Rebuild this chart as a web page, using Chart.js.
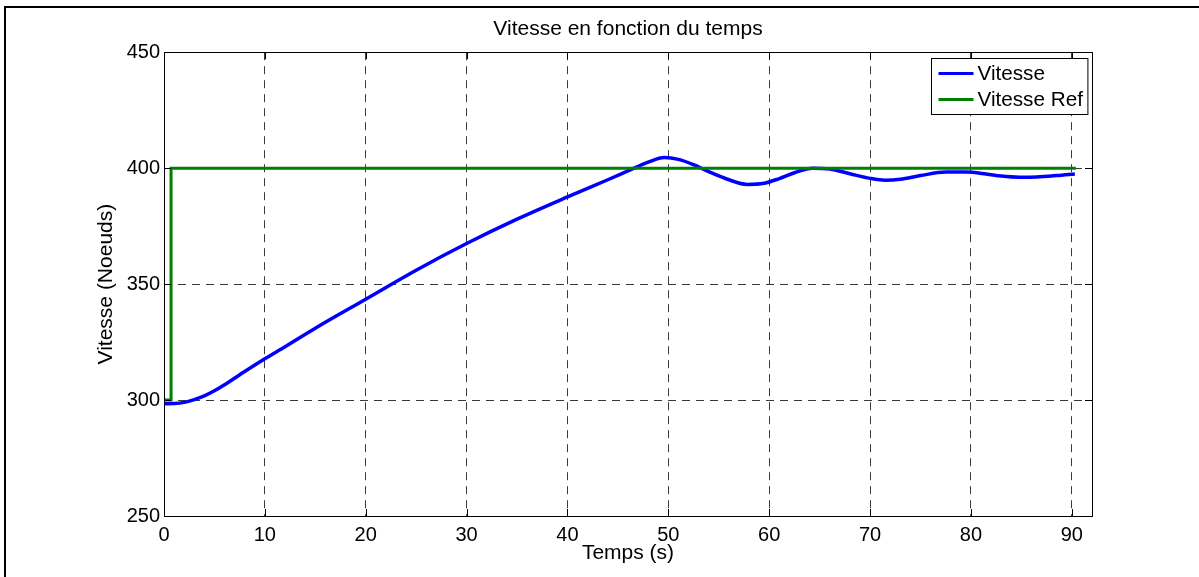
<!DOCTYPE html>
<html>
<head>
<meta charset="utf-8">
<script src="https://cdn.jsdelivr.net/npm/chart.js@4/dist/chart.umd.min.js"></script>
<style>
  html, body { margin: 0; padding: 0; background: #fff; }
  #wrap { width: 1199px; height: 577px; position: relative; }
</style>
</head>
<body>
<div id="wrap"><canvas id="vitesseChart"></canvas></div>
<script>
// values
const tempsVitesse = [0, 1, 2, 3, 4, 5, 6, 8, 10, 12, 15, 20, 25, 30, 35, 40, 44, 46, 48, 49.6, 51, 52.5, 54, 56, 57.8, 59.5, 61, 62.5, 64.3, 66, 68, 70, 71.5, 73, 75, 77.5, 79.5, 81.5, 83, 84.8, 86.5, 88.5, 90.3];
const vitesse = [298.4, 298.5, 299, 300.2, 301.8, 304, 306.6, 312.3, 317.8, 323, 331, 343.5, 356, 367.5, 378, 387.6, 395, 398.8, 402.6, 404.6, 403.8, 401.5, 398.5, 395, 393, 393.5, 395.5, 398, 400, 399.6, 397.6, 395.6, 394.8, 395.2, 396.8, 398.3, 398.3, 397.5, 396.6, 396.1, 396.2, 396.8, 397.5];
const tempsRef = [0, 0.7, 0.7, 90.4];
const vitesseRef = [300, 300, 400, 400];
const seriesLabels = ['Vitesse', 'Vitesse Ref'];
const seriesColors = ['#0000ff', '#008000'];

const FONT = '"Liberation Sans", Arial, Helvetica, sans-serif';

function toPoints(xs, ys) {
  return xs.map((x, i) => ({ x: x, y: ys[i] }));
}

// white page, outer frame, axes box, inward ticks and the boxed legend
const matlabLook = {
  id: 'matlabLook',
  beforeDraw(chart) {
    const ctx = chart.ctx;
    ctx.save();
    ctx.fillStyle = '#fff';
    ctx.fillRect(0, 0, chart.width, chart.height);
    ctx.strokeStyle = '#000';
    ctx.lineWidth = 2;
    ctx.beginPath();
    ctx.moveTo(5, chart.height);
    ctx.lineTo(5, 7);
    ctx.lineTo(chart.width, 7);
    ctx.stroke();
    ctx.restore();
  },
  afterDatasetsDraw(chart) {
    const ctx = chart.ctx;
    const a = chart.chartArea;
    const xs = chart.scales.x, ys = chart.scales.y;
    ctx.save();
    ctx.strokeStyle = '#000';
    ctx.lineWidth = 1;
    ctx.strokeRect(Math.round(a.left) + 0.5, Math.round(a.top) + 0.5,
      Math.round(a.right - a.left), Math.round(a.bottom - a.top));
    // ticks pointing inward
    const tl = 7;
    ctx.beginPath();
    xs.ticks.forEach(t => {
      const px = Math.round(xs.getPixelForValue(t.value)) + 0.5;
      ctx.moveTo(px, a.bottom); ctx.lineTo(px, a.bottom - tl);
      ctx.moveTo(px, a.top); ctx.lineTo(px, a.top + tl);
    });
    ys.ticks.forEach(t => {
      const py = Math.round(ys.getPixelForValue(t.value)) + 0.5;
      ctx.moveTo(a.left, py); ctx.lineTo(a.left + tl, py);
      ctx.moveTo(a.right, py); ctx.lineTo(a.right - tl, py);
    });
    ctx.stroke();

    // legend box
    ctx.font = '20.7px ' + FONT;
    const labels = chart.data.datasets.map(d => d.label);
    const textW = Math.max(...labels.map(l => ctx.measureText(l).width));
    const w = 7 + 35 + 4 + textW + 5;
    const h = 56;
    const bx = Math.round(a.right - 5 - w) + 0.5;
    const by = Math.round(a.top + 6) + 0.5;
    ctx.fillStyle = '#fff';
    ctx.fillRect(bx, by, w, h);
    ctx.strokeStyle = '#000';
    ctx.lineWidth = 1;
    ctx.strokeRect(bx, by, w, h);
    ctx.textBaseline = 'middle';
    ctx.textAlign = 'left';
    chart.data.datasets.forEach((d, i) => {
      const ry = by + 15 + i * 26;
      ctx.strokeStyle = d.borderColor;
      ctx.lineWidth = 3;
      ctx.beginPath();
      ctx.moveTo(bx + 7, ry);
      ctx.lineTo(bx + 42, ry);
      ctx.stroke();
      ctx.fillStyle = '#000';
      ctx.fillText(d.label, bx + 46, ry + 1);
    });
    ctx.restore();
  }
};

const gridColor = (edges) => (c) => edges.includes(c.tick.value) ? 'rgba(0,0,0,0)' : '#3a3a3a';

new Chart(document.getElementById('vitesseChart'), {
  type: 'line',
  data: {
    datasets: [{
      label: seriesLabels[0],
      data: toPoints(tempsVitesse, vitesse),
      borderColor: seriesColors[0],
      backgroundColor: seriesColors[0],
      borderWidth: 3.5,
      pointRadius: 0,
      cubicInterpolationMode: 'monotone',
      order: 2
    }, {
      label: seriesLabels[1],
      data: toPoints(tempsRef, vitesseRef),
      borderColor: seriesColors[1],
      backgroundColor: seriesColors[1],
      borderWidth: 3,
      pointRadius: 0,
      tension: 0,
      order: 1
    }]
  },
  options: {
    responsive: true,
    maintainAspectRatio: false,
    animation: false,
    layout: { padding: { left: 0, right: 107, top: 0, bottom: 0 } },
    plugins: {
      legend: { display: false },
      tooltip: { enabled: false },
      title: {
        display: true,
        text: 'Vitesse en fonction du temps',
        fullSize: false,
        color: '#000',
        font: { family: FONT, size: 21, weight: 'normal' },
        padding: { top: 17, bottom: 10 }
      }
    },
    scales: {
      x: {
        type: 'linear',
        min: 0,
        max: 92,
        afterFit(scale) { scale.height = 61; },
        ticks: {
          stepSize: 10,
          includeBounds: false,
          color: '#000',
          padding: 7,
          maxRotation: 0,
          font: { family: FONT, size: 20 }
        },
        grid: { color: gridColor([0]), drawTicks: false, lineWidth: 1 },
        border: { display: false, dash: [8, 6] },
        title: {
          display: true,
          text: 'Temps (s)',
          color: '#000',
          font: { family: FONT, size: 21 },
          padding: { top: 0, bottom: 11 }
        }
      },
      y: {
        min: 250,
        max: 450,
        afterFit(scale) { scale.width = 164; },
        ticks: {
          stepSize: 50,
          color: '#000',
          padding: 4,
          font: { family: FONT, size: 20 }
        },
        grid: { color: gridColor([250, 450]), drawTicks: false, lineWidth: 1 },
        border: { display: false, dash: [8, 6] },
        title: {
          display: true,
          text: 'Vitesse (Noeuds)',
          color: '#000',
          font: { family: FONT, size: 21 },
          padding: { top: 94, bottom: 0 }
        }
      }
    }
  },
  plugins: [matlabLook]
});
</script>
</body>
</html>
